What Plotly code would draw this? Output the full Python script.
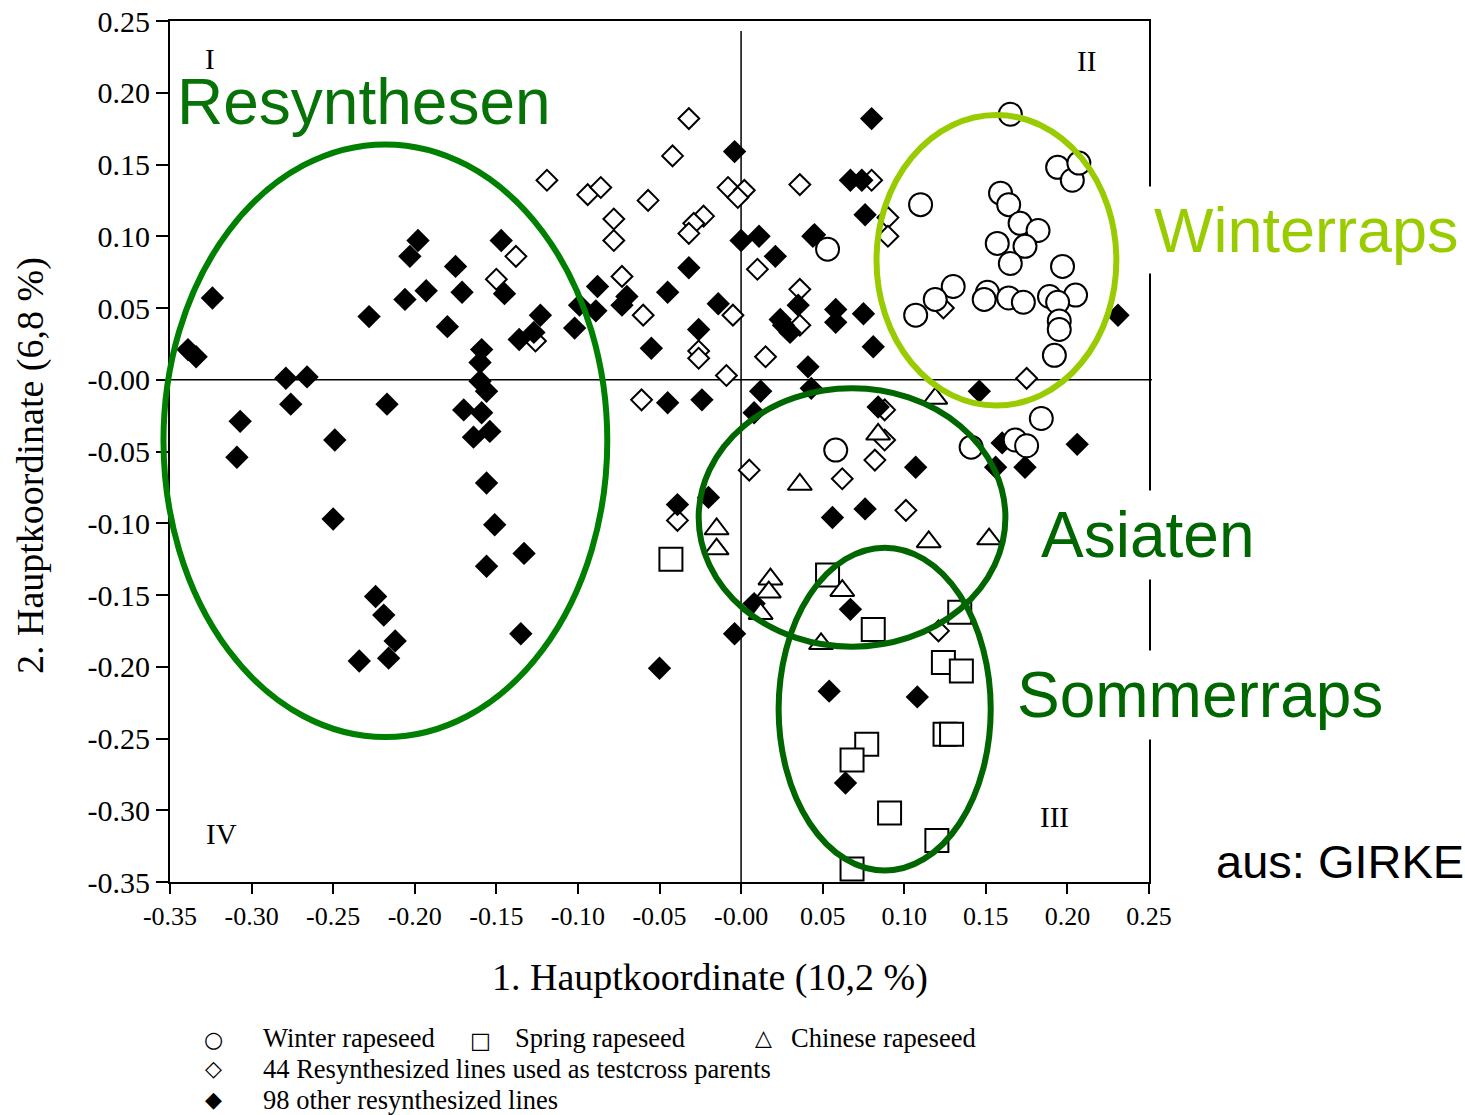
import plotly.graph_objects as go

# ---------------------------------------------------------------------------
# Principal coordinate scores (1st axis = x, 2nd axis = y)
# ---------------------------------------------------------------------------
X_RANGE = [-0.35, 0.25]
Y_RANGE = [-0.35, 0.25]
TICK_VALUES = [-0.35, -0.30, -0.25, -0.20, -0.15, -0.10, -0.05, 0.00,
               0.05, 0.10, 0.15, 0.20, 0.25]
X_TICK_TEXT = ["-0.35", "-0.30", "-0.25", "-0.20", "-0.15", "-0.10", "-0.05",
               "-0.00", "0.05", "0.10", "0.15", "0.20", "0.25"]
Y_TICK_TEXT = ["-0.35", "-0.30", "-0.25", "-0.20", "-0.15", "-0.10", "-0.05",
               "-0.00", "0.05", "0.10", "0.15", "0.20", "0.25"]

# Winter rapeseed
winter_x = [0.165, 0.194, 0.203, 0.207, 0.110, 0.159, 0.164, 0.171, 0.182,
            0.157, 0.174, 0.165, 0.197, 0.053, 0.130, 0.119, 0.107, 0.151,
            0.149, 0.164, 0.173, 0.189, 0.205, 0.194, 0.195, 0.195, 0.192,
            0.058, 0.141, 0.184, 0.168, 0.175]
winter_y = [0.185, 0.148, 0.139, 0.151, 0.122, 0.130, 0.122, 0.109, 0.104,
            0.095, 0.093, 0.081, 0.079, 0.091, 0.065, 0.056, 0.045, 0.061,
            0.056, 0.057, 0.054, 0.058, 0.059, 0.054, 0.041, 0.035, 0.017,
            -0.049, -0.047, -0.027, -0.042, -0.046]

# Spring rapeseed
spring_x = [-0.043, 0.053, 0.081, 0.134, 0.124, 0.135, 0.125, 0.129, 0.077,
            0.068, 0.091, 0.120, 0.068]
spring_y = [-0.125, -0.136, -0.174, -0.162, -0.197, -0.203, -0.247, -0.247,
            -0.254, -0.265, -0.302, -0.321, -0.341]

# Chinese rapeseed
chinese_x = [0.119, 0.084, 0.036, -0.015, -0.015, 0.018, 0.017, 0.012, 0.062,
             0.049, 0.115, 0.152]
chinese_y = [-0.013, -0.038, -0.073, -0.104, -0.118, -0.139, -0.148, -0.163,
             -0.147, -0.184, -0.113, -0.111]

# 44 resynthesized lines used as testcross parents
testcross_x = [-0.032, -0.042, -0.119, -0.094, -0.086, -0.057, -0.008, 0.002,
               -0.002, 0.036, -0.078, -0.078, -0.023, -0.029, -0.032, 0.010,
               -0.138, -0.150, -0.073, 0.036, -0.060, -0.005, 0.036, 0.015,
               -0.026, -0.026, -0.009, -0.061, -0.126, 0.080, 0.090, 0.090,
               0.124, 0.175, 0.088, 0.088, 0.082, 0.062, 0.101, 0.005,
               -0.039, 0.121]
testcross_y = [0.182, 0.156, 0.139, 0.129, 0.134, 0.125, 0.134, 0.132,
               0.127, 0.136, 0.112, 0.097, 0.114, 0.109, 0.102, 0.077,
               0.086, 0.070, 0.072, 0.063, 0.045, 0.045, 0.038, 0.016,
               0.020, 0.015, 0.003, -0.014, 0.027, 0.139, 0.113, 0.100,
               0.050, 0.001, -0.021, -0.042, -0.056, -0.069, -0.091, -0.063,
               -0.098, -0.175]

# 98 other resynthesized lines
other_x = [-0.324, -0.339, -0.334, -0.279, -0.266, -0.276, -0.307, -0.309,
           -0.249, -0.217, -0.250, -0.228, -0.180, -0.206, -0.193, -0.203,
           -0.198, -0.175, -0.171, -0.159, -0.160, -0.160, -0.156, -0.170,
           -0.159, -0.164, -0.154, -0.156, -0.151, -0.156, -0.133, -0.135,
           -0.224, -0.219, -0.212, -0.216, -0.234,
           -0.147, -0.145, -0.123, -0.136, -0.127, -0.102, -0.089, -0.088,
           -0.099, -0.070, -0.073, -0.045, -0.014, -0.004, 0.000, 0.011,
           0.021, -0.032, 0.044, 0.035, 0.024, 0.030, 0.026, -0.055, -0.026,
           0.041, -0.045, -0.024, 0.012, 0.008, -0.039, -0.020, 0.008,
           -0.004, -0.050,
           0.080, 0.067, 0.074, 0.076, 0.045, 0.058, 0.058, 0.075, 0.081,
           0.043, 0.146, 0.084, 0.107, 0.160, 0.206, 0.156, 0.174, 0.056,
           0.076, 0.231, 0.067, 0.054, 0.108, 0.064]
other_y = [0.057, 0.021, 0.016, 0.001, 0.002, -0.017, -0.029, -0.054,
           -0.042, -0.017, -0.097, 0.044, 0.037, 0.056, 0.062, 0.086,
           0.097, 0.079, 0.061, 0.021, 0.012, -0.001, -0.008, -0.021,
           -0.023, -0.040, -0.036, -0.072, -0.101, -0.130, -0.121, -0.177,
           -0.151, -0.164, -0.182, -0.194, -0.196,
           0.097, 0.060, 0.045, 0.028, 0.033, 0.036, 0.048, 0.065,
           0.052, 0.058, 0.052, 0.061, 0.053, 0.159, 0.097, 0.100,
           0.086, 0.078, 0.100, 0.052, 0.042, 0.033, 0.038, 0.022, 0.035,
           0.009, -0.016, -0.014, -0.008, -0.023, -0.087, -0.082, -0.156,
           -0.177, -0.201,
           0.182, 0.139, 0.139, 0.115, 0.101, 0.049, 0.040, 0.046, 0.023,
           -0.006, -0.008, -0.019, -0.061, -0.044, -0.045, -0.061, -0.061,
           -0.096, -0.090, 0.045, -0.160, -0.217, -0.221, -0.281]

# Group outlines (extent of each cluster on both axes)
group_names = ["Resynthesen", "Winterraps", "Asiaten", "Sommerraps"]
group_x_min = [-0.354, 0.083, -0.026, 0.023]
group_x_max = [-0.082, 0.230, 0.162, 0.153]
group_y_min = [-0.249, -0.018, -0.186, -0.342]
group_y_max = [0.164, 0.1845, -0.006, -0.117]

# Quadrant labels
quadrant_labels = ["I", "II", "III", "IV"]

# Legend entries
legend_symbols = ["○", "□", "△", "◇", "◆"]
legend_labels = ["Winter rapeseed", "Spring rapeseed", "Chinese rapeseed",
                 "44 Resynthesized lines used as testcross parents",
                 "98 other resynthesized lines"]

# ---------------------------------------------------------------------------
# Page geometry
# ---------------------------------------------------------------------------
W, H = 1465, 1115
M_L, M_R, M_T, M_B = 170, 316, 21, 233
PLOT_W = W - M_L - M_R
PLOT_H = H - M_T - M_B

SERIF = "Liberation Serif, Times New Roman, serif"
SANS = "Liberation Sans, Arial, sans-serif"
GREEN_RES_LINE = "#008000"
GREEN_RES_TEXT = "#077207"
GREEN_DARK = "#006600"
GREEN_LIGHT = "#99cc00"


def px(xp):
    """Page pixel column -> paper x."""
    return (xp - M_L) / PLOT_W


def py(yp):
    """Page pixel row -> paper y."""
    return (H - M_B - yp) / PLOT_H


def data_to_paper_x(v):
    return (v - X_RANGE[0]) / (X_RANGE[1] - X_RANGE[0])


def data_to_paper_y(v):
    return (v - Y_RANGE[0]) / (Y_RANGE[1] - Y_RANGE[0])


fig = go.Figure()

open_line = dict(color="black", width=2)
fig.add_trace(go.Scatter(
    x=testcross_x, y=testcross_y, mode="markers", name=legend_labels[3],
    marker=dict(symbol="diamond", size=16, color="white", line=open_line)))
fig.add_trace(go.Scatter(
    x=other_x, y=other_y, mode="markers", name=legend_labels[4],
    marker=dict(symbol="diamond", size=18, color="black",
                line=dict(width=0))))
fig.add_trace(go.Scatter(
    x=winter_x, y=winter_y, mode="markers", name=legend_labels[0],
    marker=dict(symbol="circle", size=23, color="white", line=open_line)))
fig.add_trace(go.Scatter(
    x=spring_x, y=spring_y, mode="markers", name=legend_labels[1],
    marker=dict(symbol="square", size=23, color="white", line=open_line)))
fig.add_trace(go.Scatter(
    x=chinese_x, y=chinese_y, mode="markers", name=legend_labels[2],
    marker=dict(symbol="triangle-up", size=21, color="white",
                line=open_line)))

shapes = [
    # reference lines through the origin
    dict(type="line", xref="x", yref="y", x0=0, x1=0, y0=Y_RANGE[0],
         y1=0.243, line=dict(color="black", width=1.5), layer="below"),
    dict(type="line", xref="paper", yref="y", x0=0, x1=1.003, y0=0, y1=0,
         line=dict(color="black", width=1.5), layer="below"),
]
outline_colors = [GREEN_RES_LINE, GREEN_LIGHT, GREEN_DARK, GREEN_DARK]
for i in range(len(group_names)):
    shapes.append(dict(
        type="circle", xref="paper", yref="paper",
        x0=data_to_paper_x(group_x_min[i]), x1=data_to_paper_x(group_x_max[i]),
        y0=data_to_paper_y(group_y_min[i]), y1=data_to_paper_y(group_y_max[i]),
        line=dict(color=outline_colors[i], width=6), layer="above"))

annotations = []

# group names (x is the left edge of the padded label box)
group_label_pos = [(168, 102), (1145, 230), (1032, 535), (1008, 695)]
group_label_sizes = [64, 63, 64, 64]
group_label_colors = [GREEN_RES_TEXT, GREEN_LIGHT, GREEN_DARK, GREEN_DARK]
for i, name in enumerate(group_names):
    xp, yp = group_label_pos[i]
    annotations.append(dict(
        text=name, x=px(xp), y=py(yp), xref="paper", yref="paper",
        xanchor="left", yanchor="middle", showarrow=False,
        font=dict(family=SANS, size=group_label_sizes[i],
                  color=group_label_colors[i]),
        bgcolor="white" if i else "rgba(0,0,0,0)", borderpad=8))

annotations.append(dict(
    text="aus: GIRKE", x=px(1214), y=py(861), xref="paper", yref="paper",
    xanchor="left", yanchor="middle", showarrow=False,
    font=dict(family=SANS, size=47, color="black")))

quadrant_pos = [(210, 59), (1086, 61), (1054, 817), (221, 834)]
for lab, (xp, yp) in zip(quadrant_labels, quadrant_pos):
    annotations.append(dict(
        text=lab, x=px(xp), y=py(yp), xref="paper", yref="paper",
        xanchor="center", yanchor="middle", showarrow=False,
        font=dict(family=SERIF, size=29, color="black")))

# axis titles
annotations.append(dict(
    text="1. Hauptkoordinate (10,2 %)", x=px(710), y=py(977),
    xref="paper", yref="paper", xanchor="center", yanchor="middle",
    showarrow=False, font=dict(family=SERIF, size=38, color="black")))
annotations.append(dict(
    text="2. Hauptkoordinate (6,8 %)", x=px(30), y=py(466), textangle=-90,
    xref="paper", yref="paper", xanchor="center", yanchor="middle",
    showarrow=False, font=dict(family=SERIF, size=38, color="black")))

# legend block
legend_symbol_pos = [(213, 1039), (480, 1040), (763, 1037), (213, 1068),
                     (213, 1099)]
legend_text_pos = [(261, 1038), (513, 1038), (789, 1038), (261, 1069),
                   (261, 1100)]
for sym, (xp, yp) in zip(legend_symbols, legend_symbol_pos):
    annotations.append(dict(
        text=sym, x=px(xp), y=py(yp), xref="paper", yref="paper",
        xanchor="center", yanchor="middle", showarrow=False,
        font=dict(family="DejaVu Sans, sans-serif", size=22, color="black")))
for lab, (xp, yp) in zip(legend_labels, legend_text_pos):
    annotations.append(dict(
        text=lab, x=px(xp), y=py(yp), xref="paper", yref="paper",
        xanchor="left", yanchor="middle", showarrow=False,
        font=dict(family=SERIF, size=26.5, color="black")))

axis_common = dict(
    showgrid=False, zeroline=False, showline=True, mirror=True,
    linecolor="black", linewidth=2, ticks="outside", tickwidth=2,
    tickcolor="black", tickvals=TICK_VALUES, automargin=False,
)

fig.update_layout(
    width=W, height=H,
    margin=dict(l=M_L, r=M_R, t=M_T, b=M_B, pad=0, autoexpand=False),
    paper_bgcolor="white", plot_bgcolor="white",
    showlegend=False,
    xaxis=dict(range=X_RANGE, ticktext=X_TICK_TEXT, ticklen=10,
               tickfont=dict(family=SERIF, size=26, color="black"),
               **axis_common),
    yaxis=dict(range=Y_RANGE, ticktext=Y_TICK_TEXT, ticklen=12,
               tickfont=dict(family=SERIF, size=30, color="black"),
               **axis_common),
    shapes=shapes,
    annotations=annotations,
)

fig.write_html("out.html")
